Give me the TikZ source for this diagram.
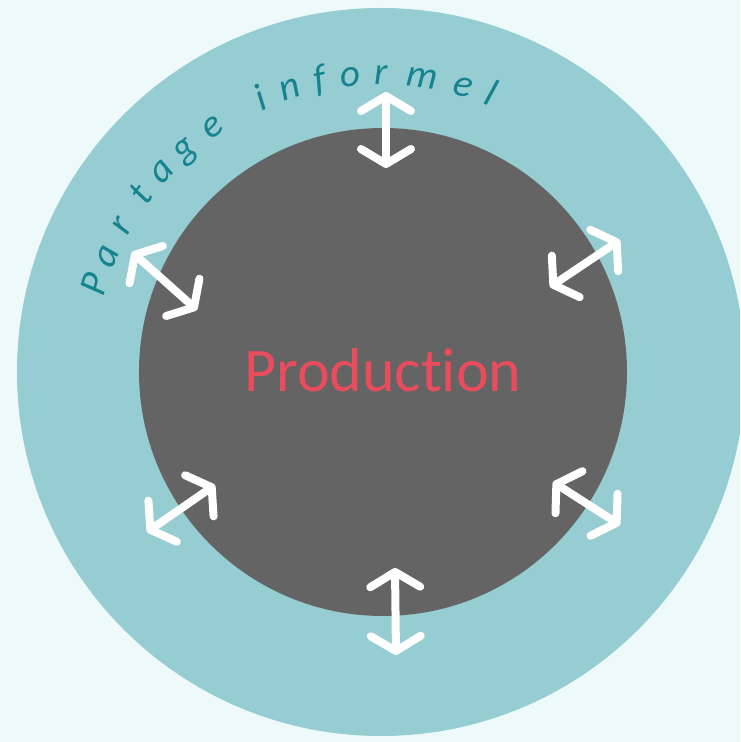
\documentclass[tikz,border=0pt]{standalone}
\usepackage{fontspec}
\setmainfont{Carlito}[Ligatures=NoCommon]
\usetikzlibrary{arrows.meta}
\definecolor{bgc}{HTML}{EEF9FA}
\definecolor{ring}{HTML}{96CDD3}
\definecolor{core}{HTML}{646464}
\definecolor{prod}{HTML}{E84C5D}
\definecolor{curv}{HTML}{16838F}
\begin{document}
\begin{tikzpicture}[x=1pt,y=1pt,
  barb/.tip={Straight Barb[length=15pt,width=50pt,round]},
  dbl/.style={draw=white,line width=8pt,line cap=round,barb-barb},
  curvlet/.style={text=curv,font=\fontsize{39}{39}\selectfont\itshape,anchor=base,inner sep=0pt}]
\clip (0,0) rectangle (740,742);
\fill[bgc] (0,0) rectangle (740,742);
\fill[ring] (381,370) circle (364);
\fill[core] (383,370) circle (244);
\node[text=prod,font=\fontsize{62}{62}\selectfont,anchor=base,inner sep=0pt] (prod) at (383,350) {Production};
\foreach \ch/\ang [count=\i] in {P/163,a/157,r/150.5,t/143.5,a/137.5,g/131.5,e/124.5,i/113.7,n/107.8,f/101.7,o/96,r/90,m/82,e/74,l/68.5}
  \node[curvlet,rotate=\ang-90] (let\i) at ({381+287*cos(\ang)},{370+287*sin(\ang)}) {\ch};
\coordinate (a1) at (386,650); \coordinate (b1) at (386,574);
\coordinate (a2) at (395,174); \coordinate (b2) at (396,87);
\coordinate (a3) at (132,490); \coordinate (b3) at (197,432);
\coordinate (a4) at (620,502); \coordinate (b4) at (550,455);
\coordinate (a5) at (215,257); \coordinate (b5) at (147,210);
\coordinate (a6) at (553,260); \coordinate (b6) at (620,217);
\foreach \k in {1,...,6} \draw[dbl] (a\k) -- (b\k);
\end{tikzpicture}
\end{document}
